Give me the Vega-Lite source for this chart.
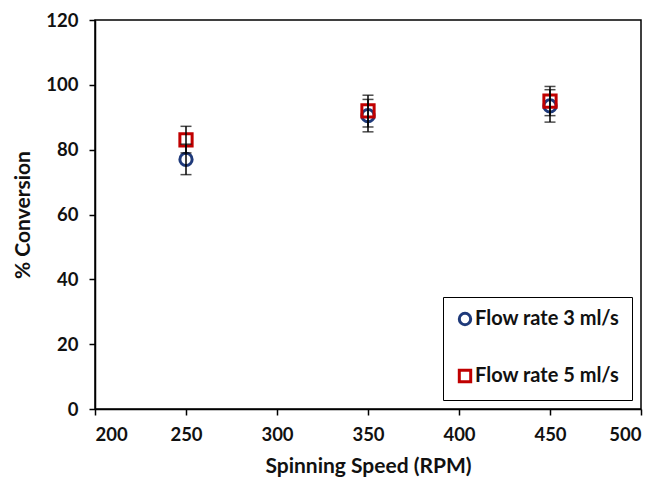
{
  "$schema": "https://vega.github.io/schema/vega-lite/v6.json",
  "width": 546,
  "height": 389,
  "autosize": {"type": "none"},
  "padding": {"left": 95, "top": 20, "right": 16, "bottom": 77},
  "background": "white",
  "config": {
    "view": {"stroke": "black", "strokeWidth": 1.5},
    "font": "Lato",
    "axis": {
      "grid": false,
      "domainColor": "black",
      "domainWidth": 1.5,
      "tickColor": "black",
      "tickWidth": 1.5,
      "tickSize": 6,
      "labelFont": "Lato",
      "labelFontSize": 18.5,
      "labelFontWeight": "bold",
      "labelColor": "#111",
      "titleFont": "Lato",
      "titleFontSize": 21,
      "titleFontWeight": "bold",
      "titleColor": "#111"
    }
  },
  "data": {
    "values": [
      {"rpm": 250, "series": "Flow rate 3 ml/s", "conv": 77, "lo": 72.3, "hi": 81.7},
      {"rpm": 350, "series": "Flow rate 3 ml/s", "conv": 90.5, "lo": 85.5, "hi": 95.5},
      {"rpm": 450, "series": "Flow rate 3 ml/s", "conv": 93.5, "lo": 88.5, "hi": 98.5},
      {"rpm": 250, "series": "Flow rate 5 ml/s", "conv": 83, "lo": 79, "hi": 87.2},
      {"rpm": 350, "series": "Flow rate 5 ml/s", "conv": 92, "lo": 87, "hi": 96.8},
      {"rpm": 450, "series": "Flow rate 5 ml/s", "conv": 95, "lo": 90.5, "hi": 99.5}
    ]
  },
  "encoding": {
    "x": {
      "field": "rpm", "type": "quantitative",
      "scale": {"domain": [200, 500], "nice": false, "zero": false},
      "axis": {"values": [200, 250, 300, 350, 400, 450, 500], "title": "Spinning Speed (RPM)", "labelPadding": 10, "titlePadding": 12}
    },
    "y": {
      "field": "conv", "type": "quantitative",
      "scale": {"domain": [0, 120], "nice": false},
      "axis": {"values": [0, 20, 40, 60, 80, 100, 120], "title": "% Conversion", "labelPadding": 11, "titlePadding": 12}
    }
  },
  "layer": [
    {
      "mark": {"type": "point", "filled": false, "strokeWidth": 3, "size": 150, "opacity": 1},
      "encoding": {
        "color": {
          "field": "series", "type": "nominal",
          "scale": {"domain": ["Flow rate 3 ml/s", "Flow rate 5 ml/s"], "range": ["#1F3A7A", "#C00000"]},
          "legend": {
            "title": null,
            "orient": "none",
            "legendX": 348,
            "legendY": 277,
            "strokeColor": "black",
            "fillColor": "white",
            "padding": 12,
            "rowPadding": 33,
            "symbolStrokeWidth": 3,
            "symbolSize": 130,
            "symbolOffset": 0,
            "labelFont": "Lato",
            "labelFontSize": 20,
            "labelFontWeight": "bold",
            "labelColor": "#111",
            "labelOffset": 0,
            "labelLimit": 300
          }
        },
        "shape": {
          "field": "series", "type": "nominal",
          "scale": {"domain": ["Flow rate 3 ml/s", "Flow rate 5 ml/s"], "range": ["circle", "square"]},
          "legend": null
        }
      }
    },
    {
      "mark": {"type": "rule", "color": "black", "strokeWidth": 1.5},
      "encoding": {"y": {"field": "lo", "type": "quantitative"}, "y2": {"field": "hi"}}
    },
    {
      "mark": {"type": "tick", "color": "black", "thickness": 1.5, "size": 11, "orient": "horizontal"},
      "encoding": {"y": {"field": "lo", "type": "quantitative"}}
    },
    {
      "mark": {"type": "tick", "color": "black", "thickness": 1.5, "size": 11, "orient": "horizontal"},
      "encoding": {"y": {"field": "hi", "type": "quantitative"}}
    }
  ]
}
